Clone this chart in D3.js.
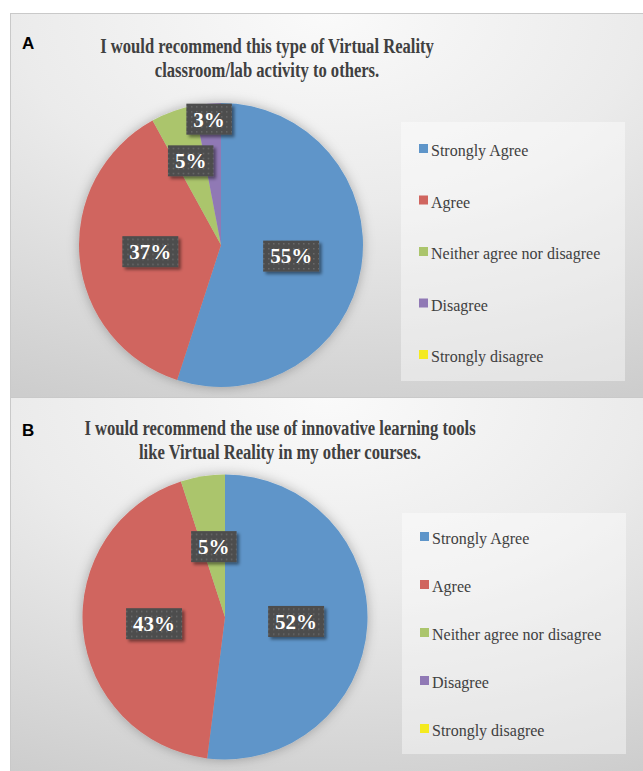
<!DOCTYPE html>
<html>
<head>
<meta charset="utf-8">
<script src="https://cdn.jsdelivr.net/npm/d3@7"></script>
<style>
  body { margin: 0; background: #fff; }
  svg { display: block; }
  .serif { font-family: "Liberation Serif", "Times New Roman", serif; }
  .sans { font-family: "Liberation Sans", Arial, sans-serif; }
</style>
</head>
<body>
<div id="chart"></div>
<script>
// categories and colours shared by both panels
const categories = ["Strongly Agree", "Agree", "Neither agree nor disagree", "Disagree", "Strongly disagree"];
const colors = ["#5e95c9", "#d0655f", "#abc56c", "#9079b5", "#f4ea1f"];

// panel A
const titleA = ["I would recommend this type of Virtual Reality", "classroom/lab activity to others."];
const valuesA = [55, 37, 5, 3, 0];

// panel B
const titleB = ["I would recommend the use of innovative learning tools", "like Virtual Reality in my other courses."];
const valuesB = [52, 43, 5, 0, 0];

(function pies() {
  const width = 643, height = 771;

  const svg = d3.select("#chart")
    .append("svg")
    .attr("width", width)
    .attr("height", height);

  const defs = svg.append("defs");

  const bg = defs.append("radialGradient")
    .attr("id", "bg")
    .attr("cx", "50%").attr("cy", "0%").attr("r", "110%")
    .attr("fx", "50%").attr("fy", "0%");
  bg.append("stop").attr("offset", "0%").attr("stop-color", "#fafafa");
  bg.append("stop").attr("offset", "45%").attr("stop-color", "#ebebeb");
  bg.append("stop").attr("offset", "100%").attr("stop-color", "#cdcdcd");

  const dots = defs.append("pattern")
    .attr("id", "dots")
    .attr("width", 5).attr("height", 5)
    .attr("patternUnits", "userSpaceOnUse");
  dots.append("rect").attr("width", 5).attr("height", 5).attr("fill", "#4d4d4d");
  dots.append("rect").attr("x", 2).attr("y", 2).attr("width", 1.4).attr("height", 1.4).attr("fill", "#6e6e6e");

  defs.append("filter").attr("id", "boxShadow")
    .attr("x", "-20%").attr("y", "-20%").attr("width", "150%").attr("height", "160%")
    .append("feDropShadow")
    .attr("dx", 2.5).attr("dy", 2.5).attr("stdDeviation", 1.5)
    .attr("flood-color", "#000").attr("flood-opacity", 0.45);

  defs.append("filter").attr("id", "pieShadow")
    .attr("x", "-20%").attr("y", "-20%").attr("width", "140%").attr("height", "140%")
    .append("feDropShadow")
    .attr("dx", 0).attr("dy", 0).attr("stdDeviation", 6)
    .attr("flood-color", "#000").attr("flood-opacity", 0.28);

  const panels = [
    { letter: "A", title: titleA, values: valuesA, top: 13, h: 384, titleX: 267, titleY: 53, letterY: 49,
      cx: 221, cy: 245, r: 142, legend: { x: 401, y: 122, w: 224, h: 259, first: 156, step: 51.5 } },
    { letter: "B", title: titleB, values: valuesB, top: 397, h: 380, titleX: 280, titleY: 435, letterY: 436,
      cx: 225, cy: 617, r: 142.5, legend: { x: 402, y: 513, w: 224, h: 241, first: 544, step: 48 } }
  ];

  const color = d3.scaleOrdinal(categories, colors);
  const pie = d3.pie().sort(null).value(d => d.value);

  panels.forEach(p => {
    const g = svg.append("g");

    g.append("rect")
      .attr("x", 10.5).attr("y", p.top + 0.5)
      .attr("width", width - 10).attr("height", p.h)
      .attr("fill", "url(#bg)")
      .attr("stroke", "#c9c9c9");

    g.append("text")
      .attr("class", "sans")
      .attr("x", 22).attr("y", p.letterY)
      .attr("font-weight", "bold").attr("font-size", 17)
      .text(p.letter);

    p.title.forEach((line, i) => {
      g.append("text")
        .attr("class", "serif")
        .attr("transform", `translate(${p.titleX},${p.titleY + i * 24}) scale(0.83,1)`)
        .attr("text-anchor", "middle")
        .attr("font-weight", "bold").attr("font-size", 20)
        .attr("fill", "#404040")
        .text(line);
    });

    // pie
    const data = categories.map((c, i) => ({ key: c, value: p.values[i] }));
    const arcs = pie(data);
    const arc = d3.arc().innerRadius(0).outerRadius(p.r);

    const pieG = g.append("g").attr("transform", `translate(${p.cx},${p.cy})`);
    pieG.append("g")
      .attr("filter", "url(#pieShadow)")
      .selectAll("path")
      .data(arcs.filter(d => d.value > 0))
      .join("path")
      .attr("d", arc)
      .attr("fill", d => color(d.data.key));

    // labels: start at half radius, push overlapping small ones outward
    const labels = arcs.filter(d => d.value > 0).map(d => ({
      d, a: (d.startAngle + d.endAngle) / 2, k: 0.5,
      text: d3.format(".0f")(d.value) + "%"
    }));

    const lg = pieG.append("g");
    labels.forEach(l => {
      l.g = lg.append("g");
      l.rect = l.g.append("rect").attr("fill", "url(#dots)").attr("filter", "url(#boxShadow)");
      l.t = l.g.append("text")
        .attr("class", "serif")
        .attr("text-anchor", "middle").attr("dy", "0.35em")
        .attr("font-weight", "bold").attr("font-size", 21)
        .attr("fill", "#fff")
        .text(l.text);
      l.w = l.t.node().getComputedTextLength() + 14;
      l.h = 31;
    });

    const pos = l => [Math.sin(l.a) * l.k * p.r, -Math.cos(l.a) * l.k * p.r];
    const overlap = (a, b) => {
      const [ax, ay] = pos(a), [bx, by] = pos(b);
      return Math.abs(ax - bx) < (a.w + b.w) / 2 + 8 && Math.abs(ay - by) < (a.h + b.h) / 2 + 10;
    };
    for (let it = 0; it < 60; it++) {
      let moved = false;
      for (let i = 0; i < labels.length; i++) {
        for (let j = i + 1; j < labels.length; j++) {
          if (overlap(labels[i], labels[j])) {
            const [small, big] = labels[i].d.value < labels[j].d.value ? [labels[i], labels[j]] : [labels[j], labels[i]];
            small.k += 0.03;
            big.k += 0.01;
            moved = true;
          }
        }
      }
      if (!moved) break;
    }

    labels.forEach(l => {
      const [x, y] = pos(l);
      l.g.attr("transform", `translate(${x},${y})`);
      l.rect.attr("x", -l.w / 2).attr("y", -l.h / 2).attr("width", l.w).attr("height", l.h);
    });

    // legend
    const L = p.legend;
    g.append("rect")
      .attr("x", L.x).attr("y", L.y).attr("width", L.w).attr("height", L.h)
      .attr("fill", "#fff").attr("fill-opacity", 0.42);

    const items = g.append("g")
      .selectAll("g")
      .data(categories)
      .join("g")
      .attr("transform", (d, i) => `translate(${L.x + 18},${L.first + i * L.step})`);
    items.append("rect")
      .attr("x", 0).attr("y", -12).attr("width", 9).attr("height", 9)
      .attr("fill", d => color(d));
    items.append("text")
      .attr("class", "serif")
      .attr("x", 12).attr("y", 0)
      .attr("font-size", 16)
      .attr("fill", "#404040")
      .text(d => d);
  });
})();
</script>
</body>
</html>
